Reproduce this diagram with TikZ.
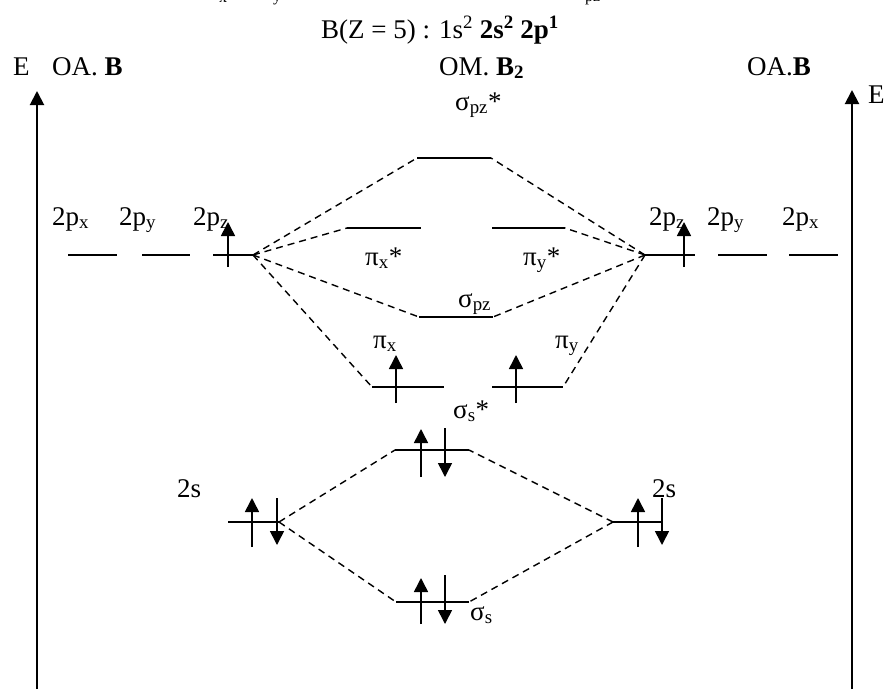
\documentclass[tikz,border=0pt]{standalone}
\usepackage{fontspec}
\setmainfont{Liberation Serif}
\usetikzlibrary{arrows.meta,positioning}

\begin{document}
\begin{tikzpicture}[x=1pt,y=-1pt,
    txt/.style={inner sep=0pt,anchor=base west,font=\fontsize{27}{30}\selectfont},
    level/.style={line width=1.8pt},
    link/.style={line width=1.4pt,dash pattern=on 7pt off 5pt},
    spin/.style={line width=1.6pt,-{Triangle[width=14pt,length=14pt]}},
    axis/.style={line width=2pt,-{Triangle[width=14pt,length=14pt]}}
]
    \useasboundingbox (0,0) rectangle (884,689);

    % cut-off subscripts from the line above
    \node[txt,font=\fontsize{16}{18}\selectfont] (cutx) at (219,2) {x};
    \node[txt,font=\fontsize{16}{18}\selectfont] (cuty) at (273,1) {y};
    \node[txt,font=\fontsize{16}{18}\selectfont] (cutpz) at (585,1) {pz};

    % headings
    \node[txt,anchor=base] (title) at (440,38) {B(Z = 5) : 1s\textsuperscript{2} \textbf{2s\textsuperscript{2} 2p\textsuperscript{1}}};
    \node[txt] (EL) at (13,75) {E};
    \node[txt] (oaL) at (52,75) {OA. \textbf{B}};
    \node[txt] (om) at (439,75) {OM. \textbf{B\textsubscript{2}}};
    \node[txt] (oaR) at (747,75) {OA.\textbf{B}};
    \node[txt] (ER) at (868,103) {E};

    % energy axes
    \coordinate (EL0) at (37,689); \coordinate (EL1) at (37,91);
    \coordinate (ER0) at (852,689); \coordinate (ER1) at (852,90);
    \draw[axis] (EL0) -- (EL1);
    \draw[axis] (ER0) -- (ER1);

    % levels
    \coordinate (szs1) at (417,158); \coordinate (szs2) at (491,158);
    \coordinate (pxs1) at (347,228); \coordinate (pxs2) at (421,228);
    \coordinate (pys1) at (492,228); \coordinate (pys2) at (565,228);
    \coordinate (sz1) at (419,317);  \coordinate (sz2) at (493,317);
    \coordinate (px1) at (372,387);  \coordinate (px2) at (444,387);
    \coordinate (py1) at (492,387);  \coordinate (py2) at (563,387);
    \coordinate (sss1) at (395,450); \coordinate (sss2) at (469,450);
    \coordinate (ss1) at (396,602);  \coordinate (ss2) at (469,602);
    \coordinate (Lx1) at (68,255);   \coordinate (Lx2) at (117,255);
    \coordinate (Ly1) at (142,255);  \coordinate (Ly2) at (190,255);
    \coordinate (Lz1) at (213,255);  \coordinate (Lz2) at (253,255);
    \coordinate (Rz1) at (645,255);  \coordinate (Rz2) at (695,255);
    \coordinate (Ry1) at (718,255);  \coordinate (Ry2) at (767,255);
    \coordinate (Rx1) at (789,255);  \coordinate (Rx2) at (838,255);
    \coordinate (Ls1) at (228,522);  \coordinate (Ls2) at (279,522);
    \coordinate (Rs1) at (613,522);  \coordinate (Rs2) at (661,522);
    \foreach \o in {szs,pxs,pys,sz,px,py,sss,ss,Lx,Ly,Lz,Rz,Ry,Rx,Ls,Rs}
        \draw[level] (\o1) -- (\o2);

    % correlation lines
    \foreach \t in {szs1,pxs1,sz1,px1} \draw[link] (Lz2) -- (\t);
    \foreach \t in {szs2,pys2,sz2,py2} \draw[link] (Rz1) -- (\t);
    \foreach \t in {sss1,ss1} \draw[link] (Ls2) -- (\t);
    \foreach \t in {sss2,ss2} \draw[link] (Rs1) -- (\t);

    % labels
    \node[txt] (lszs) at (455,110) {σ\textsubscript{pz}*};
    \node[txt] (lLx) at (52,225) {2p\textsubscript{x}};
    \node[txt] (lLy) at (119,225) {2p\textsubscript{y}};
    \node[txt] (lLz) at (193,225) {2p\textsubscript{z}};
    \node[txt] (lRz) at (649,225) {2p\textsubscript{z}};
    \node[txt] (lRy) at (707,225) {2p\textsubscript{y}};
    \node[txt] (lRx) at (782,225) {2p\textsubscript{x}};
    \node[txt] (lpxs) at (365,265) {π\textsubscript{x}*};
    \node[txt] (lpys) at (523,265) {π\textsubscript{y}*};
    \node[txt] (lsz) at (458,307) {σ\textsubscript{pz}};
    \node[txt] (lpx) at (373,348) {π\textsubscript{x}};
    \node[txt] (lpy) at (555,348) {π\textsubscript{y}};
    \node[txt] (lsss) at (453,418) {σ\textsubscript{s}*};
    \node[txt] (lLs) at (177,497) {2s};
    \node[txt] (lRs) at (652,497) {2s};
    \node[txt] (lss) at (470,620) {σ\textsubscript{s}};

    % electrons
    \draw[spin] (228,267) -- (228,222);
    \draw[spin] (684,267) -- (684,222);
    \draw[spin] (396,403) -- (396,355);
    \draw[spin] (516,403) -- (516,355);
    \draw[spin] (421,477) -- (421,429);
    \draw[spin] (445,428) -- (445,477);
    \draw[spin] (252,547) -- (252,498);
    \draw[spin] (277,498) -- (277,545);
    \draw[spin] (638,547) -- (638,498);
    \draw[spin] (662,498) -- (662,545);
    \draw[spin] (421,624) -- (421,578);
    \draw[spin] (445,575) -- (445,624);
\end{tikzpicture}
\end{document}
